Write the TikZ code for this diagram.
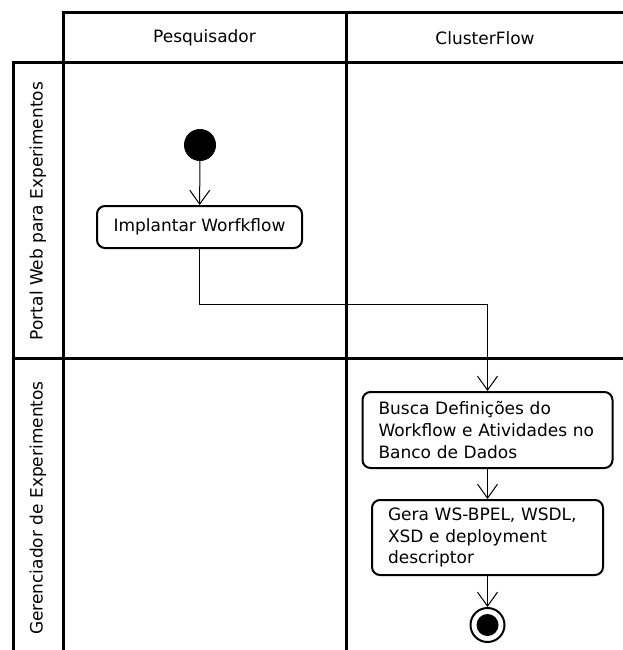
\documentclass[tikz,border=0pt]{standalone}
\usepackage{fontspec}
\setmainfont{DejaVu Sans}
\usetikzlibrary{arrows.meta}

\tikzset{
  lane/.style={line width=3pt},
  lanelabel/.style={font=\fontsize{17}{21}\selectfont},
  activity/.style={draw, line width=2pt, rounded corners=8pt, align=left,
    inner xsep=16pt, font=\fontsize{17}{21.7}\selectfont},
  flow/.style={line width=1pt, -{Straight Barb[length=14pt,width=20pt]}},
}

\begin{document}
\begin{tikzpicture}[x=1pt,y=-1pt]
    \useasboundingbox (0,0) rectangle (623,650);

    % swimlanes
    \draw[lane] (63,650) -- (63,13) -- (623,13);
    \draw[lane] (13,650) -- (13,63) -- (623,63);
    \draw[lane] (346,13) -- (346,650);
    \draw[lane] (13,358) -- (623,358);

    \node[lanelabel] (pesq) at (204.5,38) {Pesquisador};
    \node[lanelabel] (cflow) at (485,38) {ClusterFlow};
    \node[lanelabel, rotate=90] (portal) at (38,211) {Portal Web para Experimentos};
    \node[lanelabel, rotate=90] (gerenc) at (38,508) {Gerenciador de Experimentos};

    % activities
    \node[circle, fill, inner sep=0pt, minimum size=32pt] (start) at (200,145) {};
    \node[activity, minimum width=205pt, minimum height=42pt, align=center] (impl) at (199.5,227) {Implantar Worfkflow};
    \node[activity, text width=218pt, minimum height=76pt] (busca) at (487.5,430) {Busca Definições do\\Workflow e Atividades no\\Banco de Dados};
    \node[activity, text width=199pt, minimum height=75pt] (gera) at (487.5,537.5) {Gera WS-BPEL, WSDL,\\XSD e deployment\\descriptor};
    \node[circle, draw, line width=2pt, inner sep=0pt, minimum size=34pt] (end) at (487.5,625) {};
    \node[circle, fill, inner sep=0pt, minimum size=22pt] (endin) at (end) {};

    \draw[flow] (start) -- (impl);
    \draw[flow] (impl.south) -- ++(0,55) -| (busca.north);
    \draw[flow] (busca) -- (gera);
    \draw[flow] (gera) -- (end);
\end{tikzpicture}
\end{document}
